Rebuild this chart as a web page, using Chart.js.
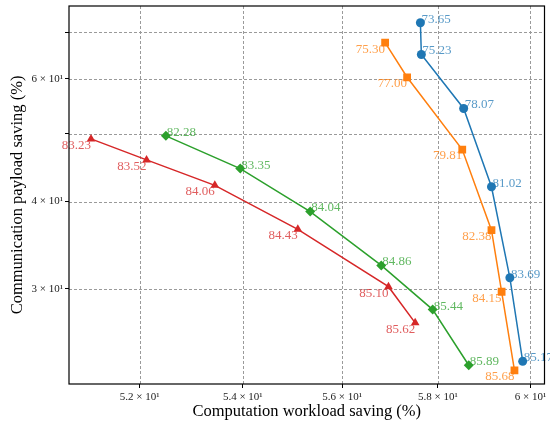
<!DOCTYPE html>
<html>
<head>
<meta charset="utf-8">
<script src="https://cdn.jsdelivr.net/npm/chart.js@4"></script>
<style>
  html, body { margin: 0; padding: 0; background: #fff; }
  #wrap { width: 550px; height: 432px; }
</style>
</head>
<body>
<div id="wrap"><canvas id="chart" width="550" height="432"></canvas></div>
<script>
// computation workload saving (x), communication payload saving (y), accuracy labels
const blueX = [57.63, 57.65, 58.55, 59.15, 59.55, 59.83];
const blueY = [72.2, 65.0, 54.4, 42.0, 31.1, 23.6];
const blueLabels = ['73.65', '75.23', '78.07', '81.02', '83.69', '85.17'];

const orangeX = [56.89, 57.35, 58.52, 59.15, 59.37, 59.65];
const orangeY = [67.6, 60.3, 47.5, 36.4, 29.7, 22.9];
const orangeLabels = ['75.30', '77.00', '79.81', '82.38', '84.15', '85.68'];

const greenX = [52.5, 53.95, 55.35, 56.81, 57.89, 58.66];
const greenY = [49.7, 44.6, 38.7, 32.4, 28.0, 23.3];
const greenLabels = ['82.28', '83.35', '84.04', '84.86', '85.44', '85.89'];

const redX = [51.08, 52.13, 53.45, 55.1, 56.96, 57.52];
const redY = [49.2, 45.9, 42.2, 36.5, 30.2, 26.8];
const redLabels = ['83.23', '83.52', '84.06', '84.43', '85.10', '85.62'];

const xTicks = [52, 54, 56, 58, 60];
const xTickLabels = ['5.2 × 10¹', '5.4 × 10¹', '5.6 × 10¹', '5.8 × 10¹', '6 × 10¹'];
const yTicks = [30, 40, 50, 60, 70];
const yTickLabels = ['3 × 10¹', '4 × 10¹', '', '6 × 10¹', ''];

const SERIF = '"Liberation Serif", "DejaVu Serif", serif';

const pts = (xs, ys) => xs.map((x, i) => ({ x, y: ys[i] }));

function series(xs, ys, labels, color, labelColor, style, radius, side) {
  return {
    data: pts(xs, ys),
    labels,
    side,
    labelColor,
    borderColor: color,
    backgroundColor: color,
    pointStyle: style,
    pointRadius: radius,
    pointBorderWidth: 0,
    borderWidth: 1.5,
    tension: 0
  };
}

// dashed grid under the data, labels + frame over it
const extras = {
  id: 'extras',
  beforeDatasetsDraw(chart) {
    const { ctx, chartArea: a, scales } = chart;
    ctx.save();
    ctx.strokeStyle = '#9a9a9a';
    ctx.lineWidth = 1;
    ctx.setLineDash([3, 2]);
    ctx.beginPath();
    xTicks.forEach(v => {
      const px = Math.round(scales.x.getPixelForValue(v)) + 0.5;
      ctx.moveTo(px, a.top); ctx.lineTo(px, a.bottom);
    });
    yTicks.forEach(v => {
      const py = Math.round(scales.y.getPixelForValue(v)) + 0.5;
      ctx.moveTo(a.left, py); ctx.lineTo(a.right, py);
    });
    ctx.stroke();
    ctx.restore();
  },
  afterDatasetsDraw(chart) {
    const ctx = chart.ctx;
    ctx.save();
    ctx.font = '13px ' + SERIF;
    chart.data.datasets.forEach((ds, i) => {
      const meta = chart.getDatasetMeta(i);
      ctx.fillStyle = ds.labelColor;
      meta.data.forEach((el, j) => {
        if (ds.side === 'right') {
          ctx.textAlign = 'left';
          ctx.textBaseline = 'bottom';
          ctx.fillText(ds.labels[j], el.x + 1, el.y + 3);
        } else {
          ctx.textAlign = 'right';
          ctx.textBaseline = 'top';
          ctx.fillText(ds.labels[j], el.x, el.y);
        }
      });
    });
    const a = chart.chartArea;
    ctx.strokeStyle = '#000';
    ctx.lineWidth = 1.2;
    ctx.strokeRect(a.left, a.top, a.right - a.left, a.bottom - a.top);
    ctx.restore();
  }
};

const grid = {
  drawOnChartArea: false,
  tickColor: '#000',
  tickLength: 4
};

new Chart(document.getElementById('chart'), {
  type: 'line',
  data: {
    datasets: [
      series(blueX, blueY, blueLabels, '#1f77b4', 'rgba(31,119,180,0.75)', 'circle', 4.5, 'right'),
      series(orangeX, orangeY, orangeLabels, '#ff7f0e', 'rgba(255,127,14,0.75)', 'rect', 5.5, 'left'),
      series(greenX, greenY, greenLabels, '#2ca02c', 'rgba(44,160,44,0.75)', 'rectRot', 5, 'right'),
      series(redX, redY, redLabels, '#d62728', 'rgba(214,39,40,0.75)', 'triangle', 5, 'left')
    ]
  },
  plugins: [extras],
  options: {
    responsive: false,
    animation: false,
    layout: { padding: { top: 6, right: 3, left: 0, bottom: 0 } },
    plugins: { legend: { display: false }, tooltip: { enabled: false } },
    scales: {
      x: {
        type: 'logarithmic',
        min: 50.67,
        max: 60.31,
        afterBuildTicks: (s) => { s.ticks = xTicks.map(v => ({ value: v })); },
        afterFit: (s) => { s.height = 48; s.paddingLeft = 0; s.paddingRight = 0; },
        grid,
        border: { display: false },
        ticks: {
          autoSkip: false,
          maxRotation: 0,
          padding: 3,
          color: '#222',
          font: { family: SERIF, size: 11 },
          callback: (v) => xTickLabels[xTicks.indexOf(v)] ?? ''
        },
        title: {
          display: true,
          text: 'Computation workload saving (%)',
          color: '#000',
          font: { family: SERIF, size: 16.5 },
          padding: { top: 0, bottom: 10 }
        }
      },
      y: {
        type: 'logarithmic',
        min: 21.9,
        max: 76.3,
        afterBuildTicks: (s) => { s.ticks = yTicks.map(v => ({ value: v })); },
        afterFit: (s) => { s.width = 69; s.paddingTop = 0; s.paddingBottom = 0; },
        grid,
        border: { display: false },
        ticks: {
          autoSkip: false,
          padding: 2,
          color: '#222',
          font: { family: SERIF, size: 11 },
          callback: (v) => yTickLabels[yTicks.indexOf(v)] ?? ''
        },
        title: {
          display: true,
          text: 'Communication payload saving (%)',
          color: '#000',
          font: { family: SERIF, size: 16.5 },
          padding: { top: 8, bottom: 0 }
        }
      }
    }
  }
});
</script>
</body>
</html>
